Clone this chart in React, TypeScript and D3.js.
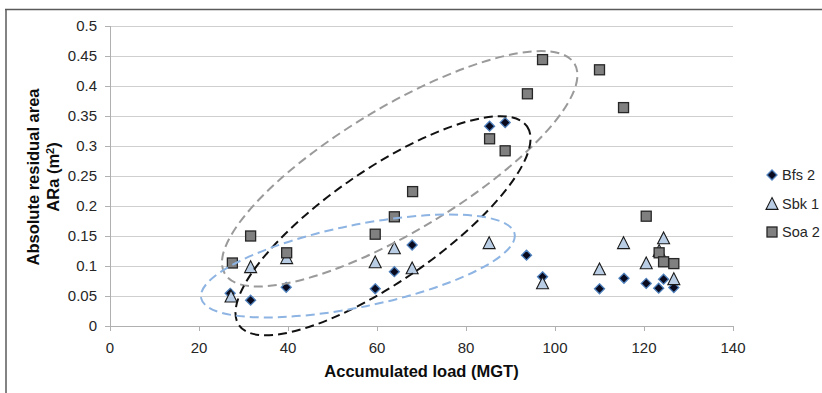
import React from "react";
import * as d3 from "d3";

// Accumulated load (MGT) and absolute residual area (m²) per series
const bfsLoad = [27, 31.6, 39.6, 59.6, 63.9, 67.9, 85.3, 88.8, 93.6, 97.2, 110, 115.5, 120.5, 123.3, 124.4, 126.7];
const bfsArea = [0.0545, 0.043, 0.0645, 0.062, 0.0905, 0.135, 0.333, 0.339, 0.118, 0.082, 0.062, 0.0795, 0.071, 0.063, 0.078, 0.064];

const sbkLoad = [27.2, 31.6, 39.7, 59.6, 63.9, 67.9, 85.2, 97.2, 110, 115.4, 120.5, 123.4, 124.4, 126.7];
const sbkArea = [0.049, 0.098, 0.113, 0.106, 0.1295, 0.096, 0.138, 0.071, 0.0945, 0.138, 0.1045, 0.125, 0.146, 0.078];

const soaLoad = [27.5, 31.6, 39.7, 59.6, 63.9, 68, 85.3, 88.8, 93.8, 97.2, 110, 115.4, 120.5, 123.4, 124.4, 126.7];
const soaArea = [0.105, 0.15, 0.122, 0.153, 0.182, 0.224, 0.312, 0.292, 0.387, 0.444, 0.427, 0.364, 0.183, 0.122, 0.107, 0.104];

const xTicks = [0, 20, 40, 60, 80, 100, 120, 140];
const yTicks = [0, 0.05, 0.1, 0.15, 0.2, 0.25, 0.3, 0.35, 0.4, 0.45, 0.5];

const seriesNames = ["Bfs 2", "Sbk 1", "Soa 2"];

// Dashed grouping ellipses: centre in data units
const groupCx = [65.1, 61.35, 55.7];
const groupCy = [0.262, 0.167, 0.1];

const W = 822;
const H = 393;
const PL = 110, PR = 733, PT = 26, PB = 326;

const FONT = "'Liberation Sans', Arial, sans-serif";

export default function App() {
  const x = d3.scaleLinear().domain([0, 140]).range([PL, PR]);
  const y = d3.scaleLinear().domain([0, 0.5]).range([PB, PT]);

  const groupStyle = [
    { rx: 204, ry: 62, angle: -31, color: "#9a9a9a" },
    { rx: 175, ry: 56, angle: -34.6, color: "#111111" },
    { rx: 160, ry: 41, angle: -11.6, color: "#8db4e2" },
  ];

  const diamond = (cx: number, cy: number, r: number) =>
    `M${cx},${cy - r}L${cx + r},${cy}L${cx},${cy + r}L${cx - r},${cy}Z`;
  const triangle = (cx: number, cy: number, s: number) => {
    const h = s * 0.9;
    return `M${cx},${cy - h / 2 - 1}L${cx + s / 2},${cy + h / 2}L${cx - s / 2},${cy + h / 2}Z`;
  };

  const drawDiamond = (cx: number, cy: number, key: string) => (
    <path key={key} d={diamond(cx, cy, 5)} fill="#0a0a1e" stroke="#4f81bd" strokeWidth={1.3} />
  );
  const drawTriangle = (cx: number, cy: number, key: string) => (
    <path key={key} d={triangle(cx, cy, 12)} fill="#b9cde5" stroke="#1a1a1a" strokeWidth={1.1} />
  );
  const drawSquare = (cx: number, cy: number, key: string) => (
    <rect key={key} x={cx - 5} y={cy - 5} width={10} height={10} fill="#808080" stroke="#262626" strokeWidth={1.3} />
  );

  const legendY = [175, 204, 232];
  const legendMarks = [drawDiamond, drawTriangle, drawSquare];

  return (
    <svg width={W} height={H} style={{ position: "absolute", left: 0, top: 0, background: "#fff" }} fontFamily={FONT}>
      {/* frame */}
      <line x1={5} y1={9.5} x2={W} y2={9.5} stroke="#5a5a5a" strokeWidth={1.5} />
      <line x1={6} y1={9} x2={6} y2={H} stroke="#5a5a5a" strokeWidth={1.5} />

      {/* grid */}
      {yTicks.map((t) => (
        <line key={`g${t}`} x1={PL} x2={PR} y1={Math.round(y(t)) + 0.5} y2={Math.round(y(t)) + 0.5}
          stroke={t === 0 ? "#b0b0b0" : "#cfcfcf"} strokeWidth={1} />
      ))}
      <line x1={PL + 0.5} x2={PL + 0.5} y1={PT} y2={PB + 0.5} stroke="#b0b0b0" strokeWidth={1} />
      {yTicks.map((t) => (
        <line key={`yt${t}`} x1={PL - 5} x2={PL} y1={Math.round(y(t)) + 0.5} y2={Math.round(y(t)) + 0.5} stroke="#b0b0b0" />
      ))}
      {xTicks.map((t) => (
        <line key={`xt${t}`} x1={Math.round(x(t)) + 0.5} x2={Math.round(x(t)) + 0.5} y1={PB} y2={PB + 5} stroke="#b0b0b0" />
      ))}

      {/* tick labels */}
      {yTicks.map((t) => (
        <text key={`yl${t}`} x={97} y={y(t)} dy="0.35em" textAnchor="end" fontSize={15} fill="#262626">
          {d3.format("")(+t.toFixed(2))}
        </text>
      ))}
      {xTicks.map((t) => (
        <text key={`xl${t}`} x={x(t)} y={353} textAnchor="middle" fontSize={15} fill="#262626">
          {t}
        </text>
      ))}

      {/* axis titles */}
      <text x={(PL + PR) / 2} y={377} textAnchor="middle" fontSize={16.5} fontWeight="bold" fill="#0d0d0d">
        Accumulated load (MGT)
      </text>
      <g transform={`translate(39,${(PT + PB) / 2 + 1}) rotate(-90)`}>
        <text x={0} y={0} textAnchor="middle" fontSize={16.5} fontWeight="bold" fill="#0d0d0d">
          Absolute residual area
        </text>
        <text x={0} y={20} textAnchor="middle" fontSize={16.5} fontWeight="bold" fill="#0d0d0d">
          ARa (m<tspan dy={-5} fontSize={11}>2</tspan><tspan dy={5}>)</tspan>
        </text>
      </g>

      {/* series */}
      <g>{bfsLoad.map((v, i) => drawDiamond(x(v), y(bfsArea[i]), `b${i}`))}</g>
      <g>{sbkLoad.map((v, i) => drawTriangle(x(v), y(sbkArea[i]), `s${i}`))}</g>
      <g>{soaLoad.map((v, i) => drawSquare(x(v), y(soaArea[i]), `q${i}`))}</g>

      {/* grouping ellipses */}
      {groupStyle.map((g, i) => (
        <ellipse key={`e${i}`} cx={0} cy={0} rx={g.rx} ry={g.ry}
          transform={`translate(${x(groupCx[i])},${y(groupCy[i])}) rotate(${g.angle})`}
          fill="none" stroke={g.color} strokeWidth={2} strokeDasharray="9 5" />
      ))}

      {/* legend */}
      {seriesNames.map((name, i) => (
        <g key={name}>
          {legendMarks[i](772, legendY[i], `lm${i}`)}
          <text x={782} y={legendY[i]} dy="0.35em" fontSize={14.5} fill="#262626">{name}</text>
        </g>
      ))}
    </svg>
  );
}
